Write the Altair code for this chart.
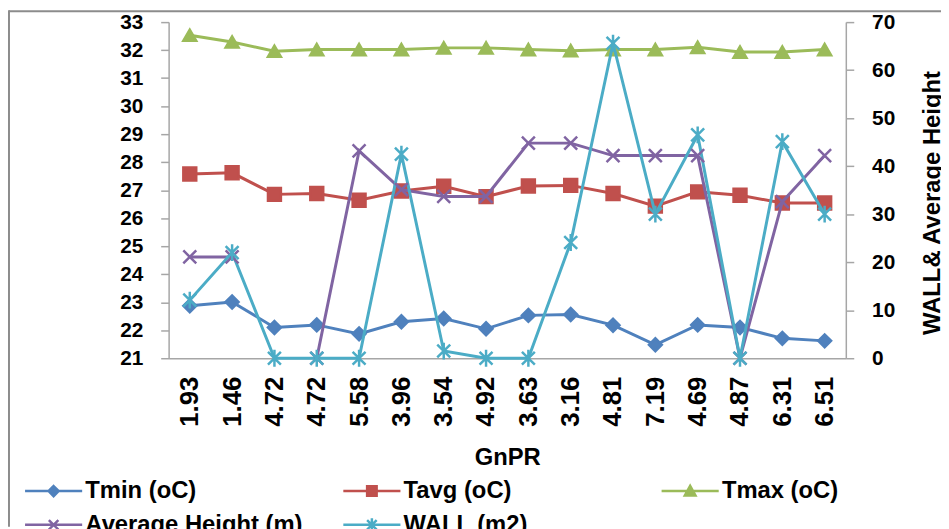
import altair as alt
import pandas as pd

# ---------------- data ----------------
gnpr = ["1.93", "1.46", "4.72", "4.72", "5.58", "3.96", "3.54", "4.92",
        "3.63", "3.16", "4.81", "7.19", "4.69", "4.87", "6.31", "6.51"]

tmin = [22.87, 23.01, 22.10, 22.19, 21.87, 22.30, 22.42, 22.05,
        22.53, 22.56, 22.18, 21.48, 22.19, 22.10, 21.71, 21.62]
tavg = [27.58, 27.62, 26.85, 26.88, 26.64, 26.97, 27.14, 26.77,
        27.15, 27.17, 26.88, 26.43, 26.94, 26.82, 26.54, 26.54]
tmax = [32.53, 32.29, 31.96, 32.02, 32.02, 32.02, 32.08, 32.08,
        32.02, 31.98, 32.02, 32.02, 32.10, 31.93, 31.93, 32.02]
avg_height = [21.1, 21.1, None, 0.0, 43.2, 35.1, 33.7, 33.7,
              44.8, 44.8, 42.2, 42.2, 42.2, 0.0, 32.6, 42.2]
wall = [12.1, 22.0, 0.0, 0.0, 0.0, 42.5, 1.5, 0.0,
        0.0, 24.1, 65.6, 30.0, 46.5, 0.0, 45.1, 30.0]

series = ["Tmin (oC)", "Tavg (oC)", "Tmax (oC)", "Average Height (m)", "WALL (m2)"]
left_series = series[:3]
right_series = series[3:]
colors = ["#4F81BD", "#C0504D", "#9BBB59", "#8064A2", "#4BACC6"]
marker_codes = ["m0", "m1", "m2", "m3", "m4"]

# ---------------- styling ----------------
FONT = "Liberation Sans"
W, H = 683, 339
AX = "#A6A6A6"

marker_shapes = [
    "diamond",
    "square",
    "triangle-up",
    "M-1,-1L1,1M-1,1L1,-1",
    "M-1,-1L1,1M-1,1L1,-1M0,-1.3L0,1.3",
]
legend_shapes = [
    "M-4.8,0L4.8,0M0,-0.85L0.85,0L0,0.85L-0.85,0Z",
    "M-4.8,0L4.8,0M-0.8,-0.8L0.8,-0.8L0.8,0.8L-0.8,0.8Z",
    "M-4.8,0L4.8,0M0,-0.9L0.9,0.75L-0.9,0.75Z",
    "M-4.8,0L4.8,0M-0.8,-0.8L0.8,0.8M-0.8,0.8L0.8,-0.8",
    "M-4.8,0L4.8,0M-0.8,-0.8L0.8,0.8M-0.8,0.8L0.8,-0.8M0,-1.1L0,1.1",
]

rows = []
for k, (s, vals) in enumerate(zip(series, [tmin, tavg, tmax, avg_height, wall])):
    seg = 0
    for i, v in enumerate(vals):
        if v is None:
            seg += 1
            continue
        rows.append({"idx": i, "series": s, "marker": marker_codes[k],
                     "value": v, "seg": f"{s}-{seg}"})
df = pd.DataFrame(rows)


def pick(vals):
    expr = f"'{vals[-1]}'"
    for s, v in reversed(list(zip(series[:-1], vals[:-1]))):
        expr = f"datum.value === '{s}' ? '{v}' : ({expr})"
    return expr


label_expr = "[" + ",".join(f"'{g}'" for g in gnpr) + "][datum.value]"

x_enc = alt.X(
    "idx:O",
    title="GnPR",
    scale=alt.Scale(domain=list(range(len(gnpr)))),
    axis=alt.Axis(
        labelExpr=label_expr, labelAngle=270, labelFont=FONT, labelFontSize=26,
        labelFontWeight="bold", labelColor="black", labelPadding=18, ticks=False,
        domainColor=AX, domainWidth=1.5, grid=False,
        titleFont=FONT, titleFontSize=24, titleFontWeight="bold", titleColor="black",
        titlePadding=20,
    ),
)

legend = alt.Legend(
    title=None, orient="none", legendX=-145, legendY=461, columns=3,
    direction="horizontal",
    gridAlign="all", columnPadding=35, rowPadding=10, padding=0,
    labelFont=FONT, labelFontSize=24, labelFontWeight="bold", labelColor="black",
    labelLimit=500, labelOffset=20, symbolOffset=17, symbolSize=144,
    symbolStrokeWidth=2.5,
    symbolType={"expr": pick(legend_shapes)},
    symbolFillColor={"expr": pick(colors)},
    symbolStrokeColor={"expr": pick(colors)},
)

color_enc = alt.Color("series:N", scale=alt.Scale(domain=series, range=colors), legend=legend)
shape_enc = alt.Shape("marker:N", scale=alt.Scale(domain=marker_codes, range=marker_shapes), legend=None)
fill_enc = alt.Fill("marker:N", scale=alt.Scale(domain=marker_codes, range=colors), legend=None)
stroke_enc = alt.Stroke("marker:N", scale=alt.Scale(domain=marker_codes, range=colors), legend=None)


def group(names, y_enc):
    sub = df[df["series"].isin(names)]
    base = alt.Chart(sub)
    line = base.mark_line(strokeWidth=3).encode(
        x=x_enc, y=y_enc, color=color_enc, detail="seg:N"
    )
    pts = base.mark_point(filled=True, size=170, strokeWidth=2.5, opacity=1).encode(
        x=x_enc, y=y_enc, fill=fill_enc, shape=shape_enc, stroke=stroke_enc
    )
    return alt.layer(line, pts)


y_left = alt.Y(
    "value:Q", title=None,
    scale=alt.Scale(domain=[21, 33], nice=False, zero=False),
    axis=alt.Axis(
        orient="left", values=list(range(21, 34)), grid=False,
        labelFont=FONT, labelFontSize=21, labelFontWeight="bold", labelColor="black",
        labelPadding=18, tickSize=8, tickColor=AX, tickWidth=1.5,
        domainColor=AX, domainWidth=1.5,
    ),
)
y_right = alt.Y(
    "value:Q",
    title="WALL&  Average Height",
    scale=alt.Scale(domain=[0, 70], nice=False),
    axis=alt.Axis(
        orient="right", values=list(range(0, 71, 10)), grid=False,
        labelFont=FONT, labelFontSize=21, labelFontWeight="bold", labelColor="black",
        labelPadding=18, tickSize=8, tickColor=AX, tickWidth=1.5,
        domainColor=AX, domainWidth=1.5,
        titleFont=FONT, titleFontSize=24, titleFontWeight="bold", titleColor="black",
        titleAngle=270, titleX=94, titleY=182, titleAlign="center",
        titleBaseline="alphabetic",
    ),
)

left = group(left_series, y_left)
right = group(right_series, y_right)

frame_src = pd.DataFrame({"k": [0]})
frame_left = alt.Chart(frame_src).mark_rule(color="#8C8C8C", strokeWidth=2).encode(
    x=alt.value(-161), y=alt.value(-12), y2=alt.value(H + 170)
)
frame_top = alt.Chart(frame_src).mark_rule(color="#8C8C8C", strokeWidth=2).encode(
    x=alt.value(-161), x2=alt.value(W + 96), y=alt.value(-11)
)

chart = (
    alt.layer(left, right, frame_left, frame_top)
    .resolve_scale(y="independent")
    .properties(
        width=W, height=H,
        padding={"left": 162, "top": 12, "right": 96, "bottom": 170},
        autosize=alt.AutoSizeParams(type="none"),
    )
    .configure_view(stroke=None)
)

chart.save("out.html", embed_options={"renderer": "svg", "actions": False})
